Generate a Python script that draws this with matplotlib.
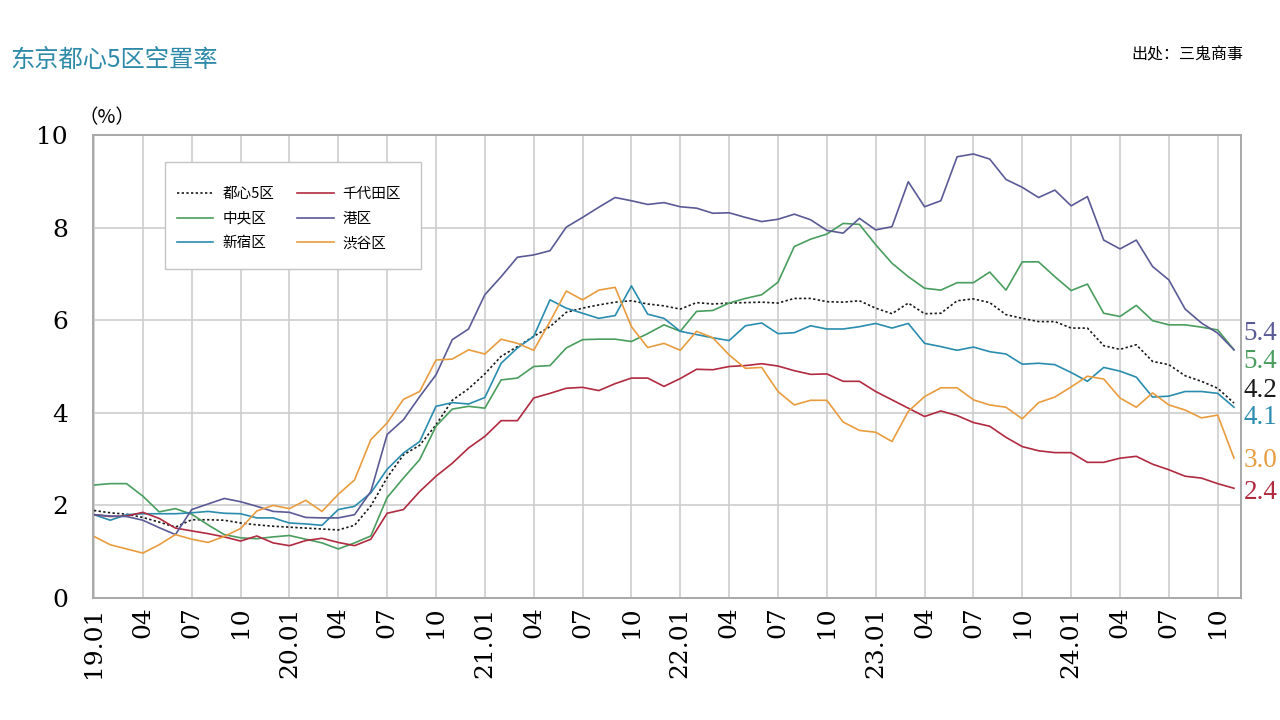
import numpy as np
import matplotlib.pyplot as plt
from matplotlib.patches import Rectangle

plt.rcParams['font.family'] = ['Noto Sans CJK SC', 'DejaVu Sans']

# monthly vacancy rate (%), 2019.01 - 2024.11
tokyo5 = [1.89, 1.84, 1.81, 1.74, 1.64, 1.53, 1.69, 1.69, 1.68, 1.62, 1.58, 1.55,
          1.53, 1.51, 1.49, 1.47, 1.57, 1.99, 2.60, 3.09, 3.30, 3.74, 4.27, 4.52,
          4.84, 5.22, 5.43, 5.65, 5.86, 6.17, 6.26, 6.33, 6.39, 6.42, 6.35, 6.31,
          6.24, 6.38, 6.35, 6.37, 6.38, 6.39, 6.37, 6.47, 6.47, 6.40, 6.39, 6.42,
          6.26, 6.14, 6.37, 6.14, 6.15, 6.42, 6.46, 6.38, 6.12, 6.04, 5.97, 5.97,
          5.83, 5.83, 5.45, 5.37, 5.47, 5.11, 5.04, 4.80, 4.68, 4.53, 4.21]
chiyoda = [1.80, 1.76, 1.77, 1.85, 1.72, 1.51, 1.45, 1.39, 1.32, 1.23, 1.34, 1.19,
           1.13, 1.24, 1.29, 1.20, 1.13, 1.27, 1.83, 1.91, 2.30, 2.63, 2.91, 3.24,
           3.49, 3.83, 3.83, 4.32, 4.42, 4.53, 4.55, 4.48, 4.63, 4.75, 4.75, 4.57,
           4.74, 4.94, 4.93, 5.00, 5.02, 5.06, 5.01, 4.91, 4.83, 4.84, 4.68, 4.68,
           4.46, 4.28, 4.10, 3.92, 4.04, 3.94, 3.79, 3.71, 3.47, 3.27, 3.18, 3.14,
           3.14, 2.93, 2.93, 3.02, 3.06, 2.89, 2.77, 2.63, 2.59, 2.47, 2.37]
chuo = [2.44, 2.47, 2.47, 2.20, 1.86, 1.93, 1.81, 1.58, 1.37, 1.30, 1.28, 1.32,
        1.35, 1.27, 1.19, 1.06, 1.19, 1.34, 2.17, 2.59, 2.99, 3.71, 4.08, 4.14,
        4.10, 4.71, 4.75, 5.00, 5.02, 5.40, 5.58, 5.59, 5.59, 5.54, 5.71, 5.90,
        5.76, 6.19, 6.21, 6.37, 6.47, 6.55, 6.82, 7.59, 7.75, 7.86, 8.09, 8.07,
        7.63, 7.23, 6.94, 6.69, 6.65, 6.81, 6.81, 7.04, 6.65, 7.26, 7.26, 6.94,
        6.64, 6.78, 6.15, 6.08, 6.32, 5.99, 5.90, 5.90, 5.85, 5.79, 5.36]
minato = [1.80, 1.77, 1.76, 1.68, 1.52, 1.37, 1.91, 2.03, 2.15, 2.08, 1.98, 1.87,
          1.85, 1.74, 1.73, 1.73, 1.80, 2.30, 3.53, 3.85, 4.35, 4.82, 5.58, 5.81,
          6.55, 6.94, 7.36, 7.41, 7.50, 8.01, 8.22, 8.44, 8.65, 8.58, 8.50, 8.54,
          8.45, 8.42, 8.31, 8.32, 8.22, 8.13, 8.18, 8.29, 8.17, 7.94, 7.88, 8.20,
          7.95, 8.02, 8.99, 8.45, 8.58, 9.53, 9.59, 9.48, 9.04, 8.87, 8.65, 8.81,
          8.47, 8.67, 7.73, 7.54, 7.73, 7.16, 6.87, 6.24, 5.94, 5.72, 5.36]
shinjuku = [1.80, 1.68, 1.80, 1.82, 1.82, 1.82, 1.84, 1.87, 1.83, 1.82, 1.73, 1.73,
            1.62, 1.60, 1.57, 1.91, 1.98, 2.27, 2.78, 3.13, 3.38, 4.14, 4.22, 4.19,
            4.33, 5.07, 5.40, 5.65, 6.44, 6.26, 6.15, 6.04, 6.10, 6.74, 6.13, 6.04,
            5.76, 5.69, 5.62, 5.56, 5.88, 5.94, 5.71, 5.73, 5.88, 5.81, 5.81, 5.86,
            5.93, 5.83, 5.93, 5.50, 5.43, 5.35, 5.42, 5.32, 5.27, 5.05, 5.07, 5.04,
            4.87, 4.68, 4.98, 4.90, 4.77, 4.34, 4.36, 4.46, 4.46, 4.42, 4.12]
shibuya = [1.33, 1.15, 1.06, 0.97, 1.15, 1.37, 1.27, 1.20, 1.33, 1.50, 1.88, 2.00,
           1.93, 2.11, 1.87, 2.24, 2.55, 3.42, 3.78, 4.29, 4.46, 5.14, 5.16, 5.36,
           5.27, 5.59, 5.50, 5.35, 5.97, 6.63, 6.44, 6.65, 6.71, 5.86, 5.41, 5.50,
           5.35, 5.76, 5.62, 5.25, 4.96, 4.98, 4.46, 4.17, 4.27, 4.27, 3.80, 3.62,
           3.58, 3.38, 4.03, 4.35, 4.54, 4.54, 4.28, 4.17, 4.12, 3.87, 4.22, 4.34,
           4.56, 4.79, 4.73, 4.32, 4.12, 4.43, 4.17, 4.06, 3.89, 3.95, 3.02]

tick_labels = ['19.01', '04', '07', '10', '20.01', '04', '07', '10',
               '21.01', '04', '07', '10', '22.01', '04', '07', '10',
               '23.01', '04', '07', '10', '24.01', '04', '07', '10']

# legend order: column 1 then column 2
series = [
    ('都心5区', tokyo5, '#1a1a1a', (0, (1.4, 1.4))),
    ('中央区', chuo, '#4a9d5e', '-'),
    ('新宿区', shinjuku, '#2a8cae', '-'),
    ('千代田区', chiyoda, '#b02a40', '-'),
    ('港区', minato, '#5a5a96', '-'),
    ('渋谷区', shibuya, '#e89c3f', '-'),
]

# end labels, placed top to bottom as in the source chart
end_order = ['港区', '中央区', '都心5区', '新宿区', '渋谷区', '千代田区']
end_y = [5.72, 5.10, 4.49, 3.89, 2.98, 2.27]

fig = plt.figure(figsize=(12.8, 7.2), dpi=100)
ax = fig.add_axes([93 / 1280, 1 - 598 / 720, (1241 - 93) / 1280, (598 - 135) / 720])

x = np.arange(len(tokyo5))
handles = []
for name, vals, color, ls in series:
    h, = ax.plot(x, vals, color=color, lw=1.2, linestyle=ls, label=name)
    handles.append(h)

ax.set_xlim(-0.06, 70.43)
ax.set_ylim(0, 10)
ax.set_xticks(np.arange(0, 70, 3))
ax.set_xticklabels(tick_labels, rotation=90, family='DejaVu Serif', fontsize=18)
ax.set_yticks(np.arange(0, 11, 2))
ax.set_yticklabels([str(v) for v in range(0, 11, 2)], family='DejaVu Serif', fontsize=18)
ax.tick_params(length=0)
ax.tick_params(axis='x', pad=6)
ax.tick_params(axis='y', pad=18)
ax.grid(True, color='#cdcdcd', lw=1.2)
ax.set_axisbelow(True)
for sp in ax.spines.values():
    sp.set_color('#a8a8a8')
    sp.set_linewidth(1.4)

# legend box
ax.add_patch(Rectangle((0.0627, 0.7106), 0.223, 0.2311, transform=ax.transAxes,
                       facecolor='white', edgecolor='#c4c4c4', lw=1.0, zorder=4))
leg = ax.legend(handles=handles, ncol=2, loc='upper left',
                bbox_to_anchor=(0.0732, 0.887), borderaxespad=0, borderpad=0,
                frameon=False, fontsize=10.5, handlelength=2.5, handletextpad=0.6,
                columnspacing=1.6, labelspacing=0.72)
leg.set_zorder(5)

lookup = {name: (vals, color) for name, vals, color, ls in series}
for name, yy in zip(end_order, end_y):
    vals, color = lookup[name]
    ax.text(1.002, yy, f'{vals[-1]:.1f}', color=color, fontsize=19.5,
            family='Liberation Serif', va='center', ha='left',
            transform=ax.get_yaxis_transform())

fig.text(78 / 1280, 1 - 118 / 720, '（%）', fontsize=14, va='center', ha='left')
fig.text(10 / 1280, 1 - 60 / 720, '东京都心5区空置率', color='#2e8aa8',
         fontsize=17.5, va='center', ha='left')
fig.text(1243 / 1280, 1 - 55 / 720, '出处：三鬼商事', fontsize=11.5,
         va='center', ha='right')

fig.savefig('out.png', dpi=100, facecolor='white')
